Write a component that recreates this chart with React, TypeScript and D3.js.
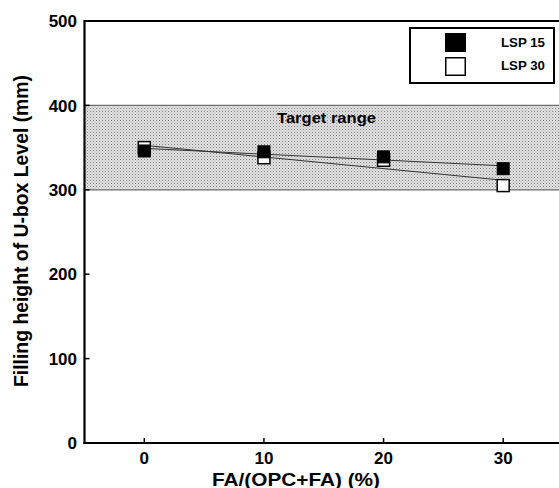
import React from "react";
import * as d3 from "d3";

const faLevels = [0, 10, 20, 30];
const lsp15 = [346, 345, 339, 325];
const lsp30 = [350, 338, 335, 305];
const yTicks = [0, 100, 200, 300, 400, 500];
const xTicks = [0, 10, 20, 30];
const targetRange = [300, 400];
const seriesNames = ["LSP 15", "LSP 30"];

const W = 559;
const H = 488;
const FONT = "'Liberation Sans', Arial, Helvetica, sans-serif";

function fit(xs: number[], ys: number[]) {
  const mx = d3.mean(xs)!;
  const my = d3.mean(ys)!;
  let num = 0;
  let den = 0;
  xs.forEach((x, i) => {
    num += (x - mx) * (ys[i] - my);
    den += (x - mx) * (x - mx);
  });
  const b = num / den;
  const a = my - b * mx;
  return (x: number) => a + b * x;
}

export default function App() {
  const x = d3.scaleLinear().domain([-5, 35]).range([84.5, 563]);
  const y = d3.scaleLinear().domain([0, 500]).range([443, 21]);
  const ms = 12;

  const f15 = fit(faLevels, lsp15);
  const f30 = fit(faLevels, lsp30);
  const xMin = d3.min(faLevels)!;
  const xMax = d3.max(faLevels)!;
  const line = d3
    .line<[number, number]>()
    .x((d) => x(d[0]))
    .y((d) => y(d[1]));

  return (
    <svg
      width={W}
      height={H}
      style={{ position: "absolute", left: 0, top: 0, background: "#fff" }}
      fontFamily={FONT}
    >
      <defs>
        <pattern id="dots" width="3" height="3" patternUnits="userSpaceOnUse">
          <rect width="3" height="3" fill="#e2e2e2" />
          <rect width="1" height="1" fill="#7e7e7e" />
          <rect x="1.5" y="1.5" width="1" height="1" fill="#a8a8a8" />
        </pattern>
      </defs>

      {/* target band */}
      <rect
        x={x(-5)}
        y={y(targetRange[1])}
        width={W - x(-5)}
        height={y(targetRange[0]) - y(targetRange[1])}
        fill="url(#dots)"
      />
      <line x1={x(-5)} x2={W} y1={y(targetRange[1])} y2={y(targetRange[1])} stroke="#6e6e6e" strokeWidth={1.2} />
      <line x1={x(-5)} x2={W} y1={y(targetRange[0])} y2={y(targetRange[0])} stroke="#6e6e6e" strokeWidth={1.2} />
      <text x={277} y={y(targetRange[1]) + 18} fontSize={15} fontWeight="bold" textLength={99} lengthAdjust="spacingAndGlyphs">
        Target range
      </text>

      {/* fit lines */}
      <path
        d={line([[xMin, f30(xMin)], [xMax, f30(xMax)]])!}
        stroke="#333"
        strokeWidth={1}
        fill="none"
      />
      <path
        d={line([[xMin, f15(xMin)], [xMax, f15(xMax)]])!}
        stroke="#333"
        strokeWidth={1}
        fill="none"
      />

      {/* markers */}
      {faLevels.map((v, i) => (
        <rect
          key={"o" + i}
          x={x(v) - ms / 2}
          y={y(lsp30[i]) - ms / 2}
          width={ms}
          height={ms}
          fill="#fff"
          stroke="#000"
          strokeWidth={1.5}
        />
      ))}
      {faLevels.map((v, i) => (
        <rect
          key={"f" + i}
          x={x(v) - ms / 2}
          y={y(lsp15[i]) - ms / 2}
          width={ms}
          height={ms}
          fill="#000"
          stroke="#000"
          strokeWidth={1}
        />
      ))}

      {/* frame */}
      <line x1={x(-5)} x2={W} y1={y(500)} y2={y(500)} stroke="#000" strokeWidth={2} />
      <line x1={x(-5)} x2={x(-5)} y1={y(500) - 1} y2={y(0) + 1} stroke="#000" strokeWidth={2.2} />
      <line x1={x(-5) - 1} x2={W} y1={y(0)} y2={y(0)} stroke="#000" strokeWidth={2.2} />

      {/* y ticks */}
      {yTicks.map((t) => (
        <g key={"y" + t}>
          <line x1={x(-5)} x2={x(-5) + 5} y1={y(t)} y2={y(t)} stroke="#000" strokeWidth={1.5} />
          <text x={77} y={y(t)} dy="0.36em" fontSize={17} fontWeight="bold" textAnchor="end">
            {t}
          </text>
        </g>
      ))}

      {/* x ticks */}
      {xTicks.map((t) => (
        <g key={"x" + t}>
          <line x1={x(t)} x2={x(t)} y1={y(0)} y2={y(0) - 5} stroke="#000" strokeWidth={1.5} />
          <text x={x(t)} y={464} fontSize={17} fontWeight="bold" textAnchor="middle">
            {t}
          </text>
        </g>
      ))}

      {/* axis titles */}
      <text x={212} y={485.5} fontSize={18.5} fontWeight="bold" textLength={168} lengthAdjust="spacingAndGlyphs">
        FA/(OPC+FA) (%)
      </text>
      <text
        transform={`translate(28,387) rotate(-90)`}
        fontSize={20}
        fontWeight="bold"
        textLength={312}
        lengthAdjust="spacingAndGlyphs"
      >
        Filling height of U-box Level (mm)
      </text>

      {/* legend */}
      <rect x={410} y={28} width={144} height={55} fill="#fff" stroke="#000" strokeWidth={2} />
      <rect x={445} y={33} width={21} height={19} fill="#000" />
      <rect x={445.75} y={57.75} width={19.5} height={17.5} fill="#fff" stroke="#000" strokeWidth={1.5} />
      <text x={501} y={47} fontSize={13} fontWeight="bold" textLength={44} lengthAdjust="spacingAndGlyphs">
        {seriesNames[0]}
      </text>
      <text x={501} y={70} fontSize={13} fontWeight="bold" textLength={44} lengthAdjust="spacingAndGlyphs">
        {seriesNames[1]}
      </text>
    </svg>
  );
}
